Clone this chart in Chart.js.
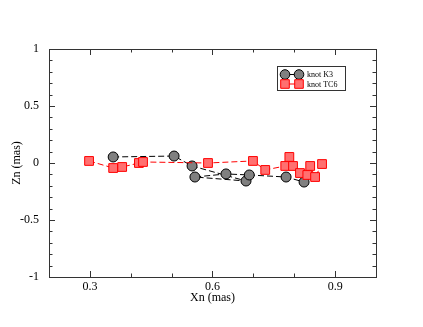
<!DOCTYPE html>
<html>
<head>
<meta charset="utf-8">
<script src="https://cdn.jsdelivr.net/npm/chart.js@4.4.1/dist/chart.umd.min.js"></script>
<style>
html,body{margin:0;padding:0;background:#fff;}
#wrap{width:423px;height:327px;}
</style>
</head>
<body>
<div id="wrap"><canvas id="c" width="423" height="327"></canvas></div>
<script>
// ---- data ----
const seriesNames = ['knot K3', 'knot TC6'];
const k3X = [0.357, 0.506, 0.550, 0.682, 0.557, 0.633, 0.690, 0.780, 0.824];
const k3Z = [0.053, 0.061, -0.026, -0.158, -0.123, -0.096, -0.105, -0.123, -0.167];
const tc6X = [0.298, 0.357, 0.379, 0.420, 0.430, 0.589, 0.699, 0.729, 0.778, 0.788, 0.797, 0.814, 0.832, 0.839, 0.851, 0.868];
const tc6Z = [0.018, -0.044, -0.035, 0.000, 0.009, 0.000, 0.018, -0.061, -0.026, 0.053, -0.026, -0.088, -0.105, -0.026, -0.123, -0.009];
const xMajorTicks = [0.3, 0.6, 0.9];
const xMinorTicks = [0.4, 0.5, 0.7, 0.8];
const yMajorTicks = [-1, -0.5, 0, 0.5, 1];
const yMinorTicks = [-0.9, -0.8, -0.7, -0.6, -0.4, -0.3, -0.2, -0.1, 0.1, 0.2, 0.3, 0.4, 0.6, 0.7, 0.8, 0.9];
const xTitle = 'Xn (mas)';
const yTitle = 'Zn (mas)';

const toPts = (xs, ys) => xs.map((x, i) => ({x: x, y: ys[i]}));
const serif = "'Liberation Serif', 'DejaVu Serif', serif";

const k3Style = {fill: '#808080', stroke: '#000000', line: '#000000'};
const tcStyle = {fill: '#ff7070', stroke: '#ff0000', line: '#ff0000'};

const framePlugin = {
  id: 'frameTicks',
  beforeDatasetsDraw(chart) {
    const {ctx, chartArea: a, scales} = chart;
    const xs = scales.x, ys = scales.y;
    ctx.save();
    ctx.strokeStyle = '#333';
    ctx.lineWidth = 1;
    ctx.strokeRect(Math.round(a.left) + 0.5, Math.round(a.top) + 0.5, Math.round(a.right - a.left), Math.round(a.bottom - a.top));
    const tick = (x1, y1, x2, y2) => { ctx.beginPath(); ctx.moveTo(x1, y1); ctx.lineTo(x2, y2); ctx.stroke(); };
    const drawX = (vals, len) => vals.forEach(v => {
      const px = Math.round(xs.getPixelForValue(v)) + 0.5;
      tick(px, a.bottom, px, a.bottom - len);
      tick(px, a.top, px, a.top + len);
    });
    const drawY = (vals, len) => vals.forEach(v => {
      const py = Math.round(ys.getPixelForValue(v)) + 0.5;
      tick(a.left, py, a.left + len, py);
      tick(a.right, py, a.right - len, py);
    });
    drawX(xMajorTicks, 6); drawX(xMinorTicks, 3.5);
    drawY(yMajorTicks, 6); drawY(yMinorTicks, 3.5);
    ctx.restore();
  },
  afterDraw(chart) {
    const {ctx} = chart;
    ctx.save();
    const bx = 277.5, by = 66.5, bw = 68, bh = 24;
    ctx.fillStyle = '#fff';
    ctx.fillRect(bx, by, bw, bh);
    ctx.strokeStyle = '#333';
    ctx.lineWidth = 1;
    ctx.strokeRect(bx, by, bw, bh);
    const rows = [
      {y: 74.5, style: k3Style, shape: 'circle', label: seriesNames[0]},
      {y: 84, style: tcStyle, shape: 'rect', label: seriesNames[1]}
    ];
    rows.forEach(r => {
      ctx.strokeStyle = r.style.line;
      ctx.setLineDash([]);
      ctx.beginPath(); ctx.moveTo(285, r.y); ctx.lineTo(299, r.y); ctx.stroke();
      [285, 299].forEach(cx => {
        ctx.fillStyle = r.style.fill;
        ctx.strokeStyle = r.style.stroke;
        ctx.beginPath();
        if (r.shape === 'circle') ctx.arc(cx, r.y, 4.8, 0, Math.PI * 2);
        else ctx.rect(cx - 4.3, r.y - 4.3, 8.6, 8.6);
        ctx.fill(); ctx.stroke();
      });
      ctx.fillStyle = '#000';
      ctx.font = '8px ' + serif;
      ctx.textBaseline = 'middle';
      ctx.textAlign = 'left';
      ctx.fillText(r.label, 307, r.y + 0.5);
    });
    ctx.restore();
  }
};

new Chart(document.getElementById('c'), {
  type: 'scatter',
  plugins: [framePlugin],
  data: {
    datasets: [
      {
        label: seriesNames[0],
        data: toPts(k3X, k3Z),
        showLine: true,
        order: 1,
        borderColor: k3Style.line,
        borderWidth: 1,
        borderDash: [6, 3],
        pointStyle: 'circle',
        pointRadius: 5,
        pointBackgroundColor: k3Style.fill,
        pointBorderColor: k3Style.stroke,
        pointBorderWidth: 1
      },
      {
        label: seriesNames[1],
        data: toPts(tc6X, tc6Z),
        showLine: true,
        order: 0,
        borderColor: tcStyle.line,
        borderWidth: 1,
        borderDash: [6, 3],
        pointStyle: 'rect',
        pointRadius: 6.2,
        pointBackgroundColor: tcStyle.fill,
        pointBorderColor: tcStyle.stroke,
        pointBorderWidth: 1
      }
    ]
  },
  options: {
    responsive: false,
    animation: false,
    devicePixelRatio: 1,
    layout: {padding: {top: 49, right: 47, left: 0, bottom: 0}},
    plugins: {legend: {display: false}, tooltip: {enabled: false}},
    scales: {
      x: {
        type: 'linear',
        min: 0.2, max: 1.0,
        afterFit(s) { s.height = 50; },
        afterBuildTicks(s) { s.ticks = xMajorTicks.map(v => ({value: v})); },
        grid: {display: false, drawTicks: false, tickLength: 0},
        border: {display: false},
        ticks: {
          padding: 3,
          color: '#000',
          font: {family: serif, size: 12},
          callback: v => String(v)
        },
        title: {display: true, text: xTitle, color: '#000', font: {family: serif, size: 12}, padding: {top: 0, bottom: 22}}
      },
      y: {
        type: 'linear',
        min: -1, max: 1,
        afterFit(s) { s.width = 49; },
        afterBuildTicks(s) { s.ticks = yMajorTicks.map(v => ({value: v})); },
        grid: {display: false, drawTicks: false, tickLength: 0},
        border: {display: false},
        ticks: {
          padding: 10,
          color: '#000',
          font: {family: serif, size: 12},
          callback: v => String(v)
        },
        title: {display: true, text: yTitle, color: '#000', font: {family: serif, size: 12}, padding: {top: 10, bottom: 0}}
      }
    }
  }
});
</script>
</body>
</html>
